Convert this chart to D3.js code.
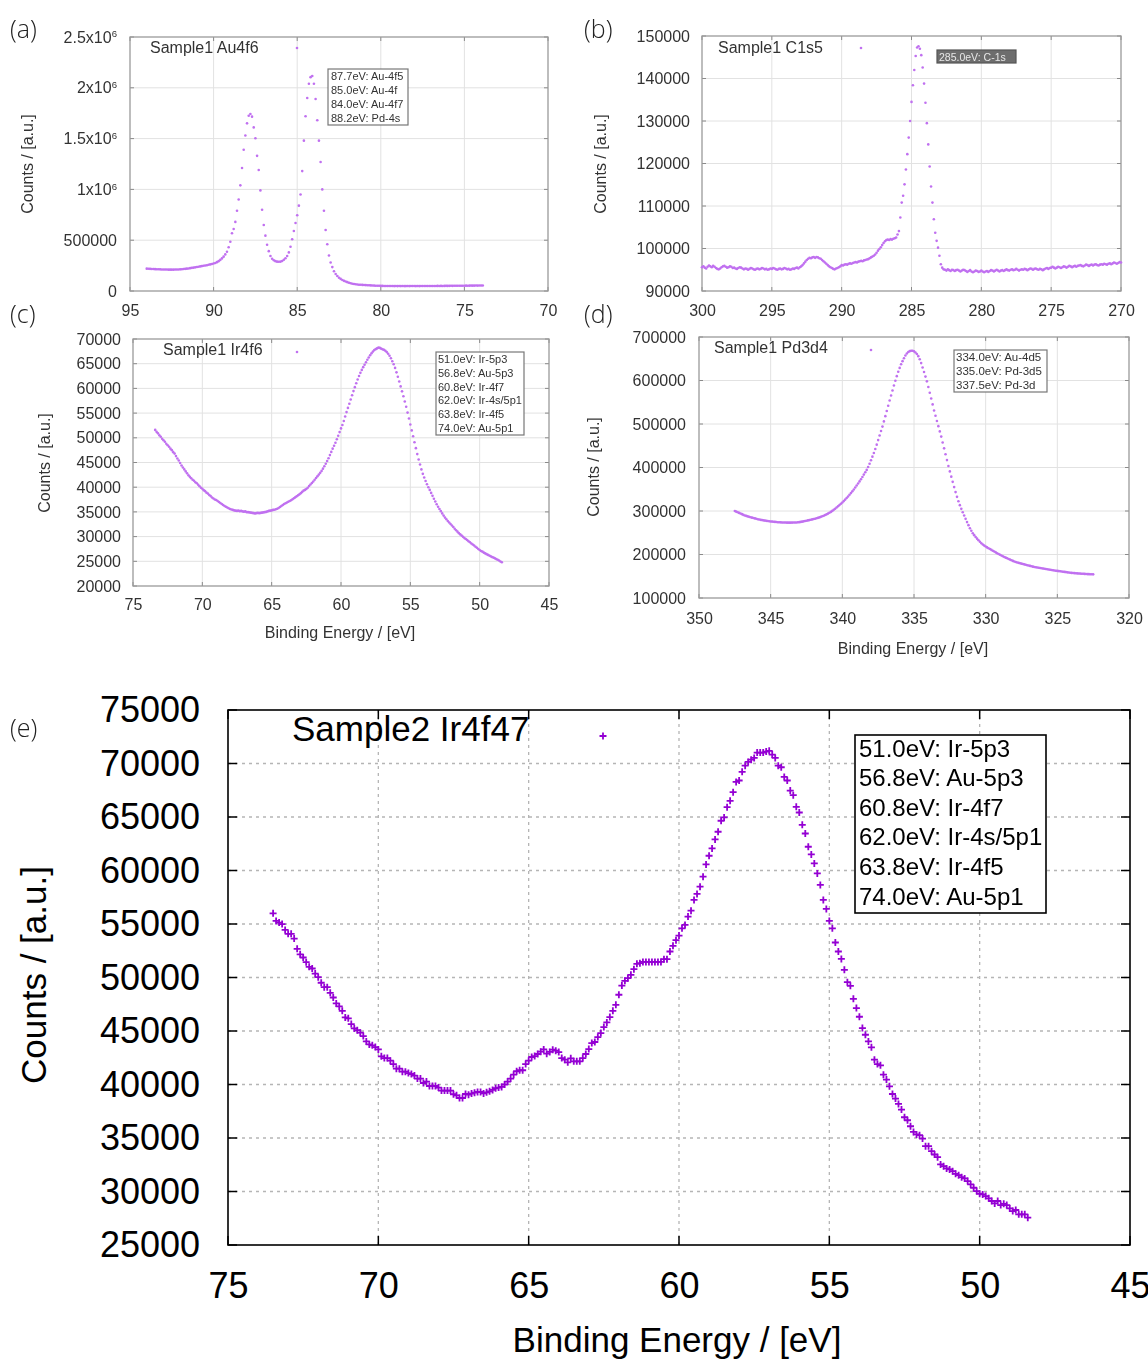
<!DOCTYPE html>
<html>
<head>
<meta charset="utf-8">
<script src="https://cdn.jsdelivr.net/npm/d3@7"></script>
<style>
  body { margin: 0; background: #fff; }
  svg { display: block; }
</style>
</head>
<body>
<svg id="fig" width="1148" height="1360"></svg>
<script>
// ---------- DATA (counts, 0.1 eV steps) ----------
const stepEV = 0.1;

// (a) Sample1 Au4f6, 94.0 -> 73.9 eV
const auStartEV = 94.0;
const auCounts = [
  220000, 219000, 218000, 217000, 216000, 215000, 214000, 214000, 213000, 212000, // 94.0
  212000, 211000, 211000, 210000, 210000, 210000, 210000, 211000, 211000, 212000, // 93.0
  213000, 214000, 216000, 218000, 220000, 222000, 225000, 228000, 230000, 233000, // 92.0
  236000, 239000, 242000, 245000, 248000, 251000, 254000, 258000, 262000, 266000, // 91.0
  270000, 276000, 284000, 294000, 306000, 321000, 338000, 360000, 387000, 430000, // 90.0
  485000, 568000, 610000, 680000, 790000, 900000, 1040000, 1210000, 1390000, 1530000, // 89.0
  1650000, 1725000, 1742000, 1716000, 1610000, 1503000, 1330000, 1191000, 990000, 800000, // 88.0
  650000, 545000, 455000, 392000, 345000, 318000, 303000, 294000, 289000, 288000, // 87.0
  289000, 296000, 308000, 322000, 345000, 380000, 435000, 510000, 590000, 670000, // 86.0
  745000, 840000, 950000, 1180000, 1480000, 1720000, 1900000, 2040000, 2105000, 2116000, // 85.0
  2040000, 1890000, 1680000, 1480000, 1270000, 1000000, 790000, 600000, 460000, 350000, // 84.0
  280000, 235000, 195000, 168000, 147000, 131000, 119000, 109000, 100000, 93000, // 83.0
  87000, 81000, 76000, 72000, 69000, 66000, 64000, 62000, 61000, 60000, // 82.0
  59000, 58000, 57000, 56000, 55000, 54000, 53000, 52000, 51000, 51000, // 81.0
  50000, 50000, 49000, 49500, 49000, 48500, 49000, 48500, 48000, 48500, // 80.0
  48000, 48500, 48000, 48500, 48000, 48000, 48500, 48000, 48500, 49000, // 79.0
  48500, 48000, 48500, 48000, 48500, 49000, 48500, 49000, 48500, 49000, // 78.0
  49500, 49000, 49500, 49000, 50000, 49500, 50000, 49500, 50000, 50500, // 77.0
  50000, 50500, 51000, 50500, 51000, 51500, 51000, 51500, 52000, 51500, // 76.0
  52000, 52500, 52000, 52500, 53000, 52500, 53000, 53500, 53000, 53500, // 75.0
  54000, 53500                                                           // 74.0
];

// (b) Sample1 C1s5, 300.0 -> 270.0 eV
const c1sStartEV = 300.0;
const c1sCounts = [
  95600, 95800, 95500, 95300, 95700, 96000, 95800, 95600, 95900, 95700, // 300.0
  95400, 95200, 95100, 95300, 95600, 95800, 95900, 95700, 95500, 95600, // 299.0
  95800, 95700, 95400, 95500, 95300, 95200, 95400, 95600, 95500, 95300, // 298.0
  95100, 95300, 95200, 95000, 95200, 95400, 95300, 95100, 95000, 95200, // 297.0
  95300, 95100, 95200, 95400, 95300, 95100, 95200, 95000, 95100, 95300, // 296.0
  95200, 95400, 95300, 95100, 95000, 95200, 95300, 95100, 95200, 95400, // 295.0
  95300, 95100, 95200, 95000, 95100, 95300, 95200, 95400, 95500, 95300, // 294.0
  95600, 95800, 96100, 96500, 96900, 97300, 97600, 97800, 97700, 97900, // 293.0
  98000, 97800, 98000, 97900, 97700, 97600, 97300, 97000, 96700, 96400, // 292.0
  96100, 95800, 95600, 95400, 95200, 95100, 95300, 95400, 95600, 95800, // 291.0
  96100, 96000, 96200, 96300, 96200, 96400, 96500, 96400, 96600, 96700, // 290.0
  96800, 96700, 96900, 97000, 97100, 97000, 97200, 97300, 97400, 97500, // 289.0
  97700, 97900, 98100, 98300, 98600, 99000, 99500, 99900, 100300, 100800, // 288.0
  101300, 101700, 102000, 102100, 102000, 102200, 102100, 102300, 102400, 102600, // 287.0
  103300, 104100, 107300, 110800, 112400, 115100, 118600, 122200, 126100, 130000, // 286.0
  134500, 138400, 142000, 145300, 147300, 147600, 147000, 145500, 142600, 138800, // 285.0
  134300, 129500, 124500, 119300, 114600, 110800, 106900, 103700, 101800, 100200, // 284.0
  98300, 96300, 95500, 95100, 95000, 94800, 95100, 94900, 94700, 95000, // 283.0
  94900, 94700, 94900, 95000, 94800, 94600, 94800, 95000, 94900, 94700, // 282.0
  94500, 94700, 94900, 94600, 94400, 94600, 94800, 94700, 94500, 94600, // 281.0
  94800, 94600, 94400, 94600, 94700, 94500, 94700, 94900, 94800, 94600, // 280.0
  94800, 95000, 94800, 94600, 94800, 94900, 94700, 94900, 95100, 94900, // 279.0
  94800, 95000, 95100, 94900, 95000, 95200, 95000, 94800, 95000, 95100, // 278.0
  95000, 95200, 95100, 94900, 95100, 95300, 95200, 95000, 95200, 95300, // 277.0
  95100, 95000, 95200, 95100, 94900, 95100, 95300, 95400, 95200, 95400, // 276.0
  95500, 95700, 95500, 95300, 95500, 95700, 95600, 95400, 95600, 95800, // 275.0
  95700, 95500, 95700, 95900, 95800, 95600, 95800, 95900, 95700, 95900, // 274.0
  96000, 96100, 95900, 95800, 96000, 96200, 96100, 95900, 96100, 96200, // 273.0
  96000, 96200, 96300, 96100, 96000, 96200, 96300, 96200, 96400, 96300, // 272.0
  96200, 96400, 96500, 96300, 96500, 96700, 96600, 96400, 96600, 96800, // 271.0
  96700                                                                  // 270.0
];

// (c) Sample1 Ir4f6, 73.4 -> 48.4 eV
const ir1StartEV = 73.4;
const ir1Counts = [
  51600, 51200, 50900, 50500, 50200, 49800, 49500, 49200, 48800, 48500, // 73.4
  48200, 47800, 47500, 47100, 46800, 46300, 45800, 45400, 44900, 44400, // 72.4
  44000, 43600, 43200, 42800, 42400, 42100, 41800, 41500, 41300, 41000, // 71.4
  40800, 40500, 40200, 39900, 39700, 39400, 39200, 38900, 38700, 38400, // 70.4
  38200, 37900, 37700, 37500, 37400, 37200, 37000, 36800, 36600, 36400, // 69.4
  36200, 36050, 35900, 35750, 35600, 35500, 35400, 35300, 35250, 35200, // 68.4
  35250, 35150, 35200, 35100, 35050, 35100, 34950, 34950, 34900, 34850, // 67.4
  34800, 34750, 34700, 34750, 34800, 34750, 34800, 34850, 34900, 34950, // 66.4
  35000, 35100, 35200, 35250, 35300, 35400, 35450, 35550, 35650, 35800, // 65.4
  36000, 36200, 36400, 36600, 36750, 36900, 37050, 37200, 37350, 37550, // 64.4
  37750, 37950, 38150, 38350, 38550, 38800, 39050, 39300, 39450, 39650, // 63.4
  39900, 40250, 40550, 40850, 41150, 41500, 41850, 42200, 42550, 42900, // 62.4
  43300, 43750, 44250, 44750, 45300, 45850, 46500, 47150, 47800, 48400, // 61.4
  49000, 49700, 50400, 51150, 51900, 52600, 53400, 54300, 55200, 56050, // 60.4
  56900, 57750, 58600, 59450, 60250, 61050, 61800, 62500, 63150, 63750, // 59.4
  64300, 64800, 65300, 65800, 66250, 66700, 67100, 67450, 67750, 67950, // 58.4
  68100, 68250, 68200, 68050, 67900, 67800, 67600, 67350, 67000, 66600, // 57.4
  66100, 65500, 64900, 64150, 63250, 62350, 61400, 60400, 59400, 58400, // 56.4
  57350, 56300, 55100, 53900, 52700, 51500, 50300, 49100, 47900, 46700, // 55.4
  45600, 44600, 43600, 42700, 41950, 41250, 40600, 40000, 39450, 38850, // 54.4
  38250, 37650, 37100, 36550, 36050, 35600, 35150, 34700, 34250, 33850, // 53.4
  33500, 33150, 32850, 32550, 32250, 31950, 31600, 31300, 31000, 30700, // 52.4
  30450, 30200, 29950, 29700, 29500, 29300, 29050, 28850, 28600, 28400, // 51.4
  28200, 27950, 27750, 27500, 27300, 27100, 26950, 26750, 26600, 26450, // 50.4
  26300, 26150, 26000, 25850, 25750, 25600, 25450, 25300, 25150, 24950, // 49.4
  24800                                                                  // 48.4
];

// (d) Sample1 Pd3d4, 347.5 -> 322.5 eV
const pdStartEV = 347.5;
const pdCounts = [
  300000, 298500, 297000, 295600, 294200, 292800, 291000, 289800, 288700, 287600, // 347.5
  286600, 285600, 284700, 283800, 283000, 282200, 281100, 280400, 279700, 279100, // 346.5
  278500, 277900, 277400, 276900, 276400, 276000, 275600, 275200, 274900, 274600, // 345.5
  274300, 274100, 273900, 273700, 273500, 273400, 273300, 273200, 273200, 273200, // 344.5
  273300, 273400, 273500, 273700, 274000, 274400, 274900, 275500, 276200, 276900, // 343.5
  277600, 278400, 279100, 279900, 280700, 281500, 282300, 283200, 284200, 285300, // 342.5
  286500, 287800, 289200, 290700, 292300, 294000, 295900, 297900, 300200, 302700, // 341.5
  305300, 308000, 310800, 313700, 316600, 319600, 322800, 326200, 329800, 333500, // 340.5
  337300, 341200, 345200, 349500, 354000, 358600, 363300, 368100, 373000, 378200, // 339.5
  383700, 389000, 394500, 401000, 408500, 416500, 425000, 433500, 442500, 452500, // 338.5
  463000, 473500, 484000, 494000, 506000, 518000, 530000, 542000, 554000, 565500, // 337.5
  577000, 588500, 599500, 610000, 620000, 629000, 637500, 644500, 651000, 657500, // 336.5
  662000, 665500, 667500, 668500, 668500, 667000, 664500, 661000, 656000, 649000, // 335.5
  640000, 630000, 619500, 609000, 598000, 585000, 572000, 558500, 545000, 531000, // 334.5
  519000, 507000, 495000, 483000, 471000, 457500, 444000, 430500, 417000, 403500, // 333.5
  391000, 379000, 367000, 355000, 343500, 332500, 322500, 313500, 305000, 297000, // 332.5
  289500, 282000, 274500, 267500, 260500, 254500, 249000, 244500, 240300, 236400, // 331.5
  232600, 229200, 226000, 223000, 220500, 218300, 216300, 214400, 212500, 210600, // 330.5
  208700, 206800, 204900, 203000, 201200, 199400, 197700, 196000, 194400, 192800, // 329.5
  191300, 189800, 188300, 186800, 185300, 183900, 182700, 181700, 180800, 179900, // 328.5
  179000, 178100, 177200, 176300, 175400, 174600, 173800, 173000, 172100, 171400, // 327.5
  170800, 170200, 169600, 169000, 168400, 167800, 167200, 166600, 166000, 165400, // 326.5
  164800, 164200, 163700, 163300, 162800, 162300, 161800, 161400, 160900, 160400, // 325.5
  160000, 159500, 159000, 158500, 158100, 157700, 157400, 157100, 156800, 156500, // 324.5
  156300, 156100, 155800, 155600, 155400, 155200, 155000, 154800, 154700, 154500, // 323.5
  154400                                                                          // 322.5
];

// (e) Sample2 Ir4f47, 73.5 -> 48.4 eV
const ir2StartEV = 73.5;
const ir2Counts = [
  56000, 55290, 55130, 54990, 54450, 54080, 54080, 53640, 52680, 52170, // 73.5
  51870, 51430, 51000, 50840, 50370, 50030, 49510, 49100, 49100, 48570, // 72.5
  48130, 47580, 47300, 46890, 46270, 46180, 45650, 45240, 45080, 44840, // 71.5
  44530, 44030, 43750, 43660, 43500, 43280, 42630, 42470, 42470, 42230, // 70.5
  41910, 41480, 41480, 41200, 41200, 41070, 40980, 40830, 40550, 40550, // 69.5
  40140, 40270, 39860, 39860, 39860, 39710, 39430, 39430, 39430, 39430, // 68.5
  39090, 38990, 38740, 38740, 39110, 39050, 39150, 39240, 39300, 39300, // 67.5
  39170, 39270, 39360, 39490, 39650, 39710, 39770, 40000, 40270, 40550, // 66.5
  40920, 41240, 41330, 41330, 41910, 42230, 42570, 42660, 42850, 43070, // 65.5
  43280, 42880, 43040, 43250, 43160, 43030, 42470, 42320, 42070, 42450, // 64.5
  42170, 42170, 42170, 42470, 42850, 43310, 43870, 43970, 44430, 44810, // 63.5
  45370, 45800, 46300, 46890, 47450, 48390, 49250, 49690, 49940, 50250, // 62.5
  50780, 51280, 51340, 51460, 51460, 51460, 51460, 51460, 51460, 51460, // 61.5
  51710, 51710, 52430, 52960, 53490, 53920, 54600, 54910, 55690, 56250, // 60.5
  57250, 57810, 58490, 59420, 60570, 61380, 62060, 62900, 63620, 64650, // 59.5
  64960, 65920, 66510, 67320, 68280, 68410, 69220, 69800, 70150, 70360, // 58.5
  70520, 71020, 71020, 71020, 71110, 71180, 70830, 70520, 69800, 69650, // 57.5
  68750, 68410, 67470, 67040, 65950, 65420, 64270, 63460, 62220, 61500, // 56.5
  60660, 59730, 58650, 57250, 56410, 55290, 54600, 53270, 52430, 51740, // 55.5
  50720, 49560, 49220, 48010, 47140, 46330, 45270, 44650, 44030, 43470, // 54.5
  42320, 41910, 41790, 40920, 40460, 39830, 39110, 38680, 38180, 37660, // 53.5
  36940, 36660, 36100, 35570, 35330, 35260, 34950, 34240, 34240, 33770, // 52.5
  33460, 33210, 32530, 32370, 32160, 32060, 31900, 31650, 31530, 31340, // 51.5
  31220, 30970, 30660, 30350, 30040, 29790, 29730, 29570, 29360, 29110, // 50.5
  28890, 29110, 28730, 28850, 28730, 28420, 28170, 28270, 27870, 27870, // 49.5
  27870, 27550                                                           // 48.5
];

// ticks and labels
const auXTicks = [95, 90, 85, 80, 75, 70];
const auYTicks = [0, 500000, 1000000, 1500000, 2000000, 2500000];
const c1sXTicks = [300, 295, 290, 285, 280, 275, 270];
const c1sYTicks = [90000, 100000, 110000, 120000, 130000, 140000, 150000];
const irXTicks = [75, 70, 65, 60, 55, 50, 45];
const ir1YTicks = [20000, 25000, 30000, 35000, 40000, 45000, 50000, 55000, 60000, 65000, 70000];
const pdXTicks = [350, 345, 340, 335, 330, 325, 320];
const pdYTicks = [100000, 200000, 300000, 400000, 500000, 600000, 700000];
const ir2YTicks = [25000, 30000, 35000, 40000, 45000, 50000, 55000, 60000, 65000, 70000, 75000];

const auKey = ["87.7eV: Au-4f5", "85.0eV: Au-4f", "84.0eV: Au-4f7", "88.2eV: Pd-4s"];
const c1sKey = ["285.0eV: C-1s"];
const irKey = ["51.0eV: Ir-5p3", "56.8eV: Au-5p3", "60.8eV: Ir-4f7", "62.0eV: Ir-4s/5p1", "63.8eV: Ir-4f5", "74.0eV: Au-5p1"];
const pdKey = ["334.0eV: Au-4d5", "335.0eV: Pd-3d5", "337.5eV: Pd-3d"];

const xTitle = "Binding Energy / [eV]";
const yTitle = "Counts / [a.u.]";

// ---------- DRAWING ----------
const FONT = "'Liberation Sans', Arial, Helvetica, sans-serif";
const svg = d3.select("#fig");
svg.append("rect").attr("width", 1148).attr("height", 1360).attr("fill", "#fff");
svg.append("defs").append("filter").attr("id", "soft")
  .append("feGaussianBlur").attr("stdDeviation", 0.45);

const toPoints = (start, counts) =>
  counts.map((c, i) => ({ ev: +(start - i * stepEV).toFixed(2), c }));

function sciLabel(sel) {
  // "1.5x10^6" style labels for the Au panel
  sel.each(function (d) {
    if (d < 1e6) return;
    const t = d3.select(this).text("");
    t.append("tspan").text(d3.format("~g")(d / 1e6) + "x10");
    t.append("tspan").attr("dy", "-0.55em").attr("font-size", "0.6em").text("6");
  });
}

function drawPanel(p) {
  const g = svg.append("g");
  if (p.soft) g.attr("filter", "url(#soft)");

  const x = d3.scaleLinear().domain(p.xDomain).range([p.x0, p.x1]);
  const y = d3.scaleLinear().domain(p.yDomain).range([p.y1, p.y0]);

  // grid
  const grid = g.append("g")
    .attr("stroke", p.gridColor).attr("stroke-width", p.gridWidth)
    .attr("stroke-dasharray", p.gridDash);
  grid.selectAll(".gx").data(p.xTicks.slice(1, -1)).join("line")
    .attr("x1", d => x(d)).attr("x2", d => x(d)).attr("y1", p.y0).attr("y2", p.y1);
  grid.selectAll(".gy").data(p.yTicks.slice(1, -1)).join("line")
    .attr("y1", d => y(d)).attr("y2", d => y(d)).attr("x1", p.x0).attr("x2", p.x1);

  // inner ticks on all four sides
  const tk = g.append("g").attr("stroke", p.tickColor).attr("stroke-width", p.tickWidth);
  p.xTicks.forEach(d => {
    tk.append("line").attr("x1", x(d)).attr("x2", x(d)).attr("y1", p.y1).attr("y2", p.y1 - p.tickLen);
    tk.append("line").attr("x1", x(d)).attr("x2", x(d)).attr("y1", p.y0).attr("y2", p.y0 + p.tickLen);
  });
  p.yTicks.forEach(d => {
    tk.append("line").attr("y1", y(d)).attr("y2", y(d)).attr("x1", p.x0).attr("x2", p.x0 + p.tickLen);
    tk.append("line").attr("y1", y(d)).attr("y2", y(d)).attr("x1", p.x1).attr("x2", p.x1 - p.tickLen);
  });

  g.append("rect")
    .attr("x", p.x0).attr("y", p.y0).attr("width", p.x1 - p.x0).attr("height", p.y1 - p.y0)
    .attr("fill", "none").attr("stroke", p.borderColor).attr("stroke-width", p.borderWidth);

  // axes (labels only)
  const ax = g.append("g").attr("transform", `translate(0,${p.y1})`)
    .call(d3.axisBottom(x).tickValues(p.xTicks).tickFormat(d3.format("d"))
      .tickSize(0).tickPadding(p.xLabelBase - p.y1 - 0.71 * p.labelSize));
  const ay = g.append("g").attr("transform", `translate(${p.x0},0)`)
    .call(d3.axisLeft(y).tickValues(p.yTicks).tickFormat(d3.format("d"))
      .tickSize(0).tickPadding(p.x0 - p.yLabelRight));
  [ax, ay].forEach(a => {
    a.select(".domain").remove();
    a.selectAll("text").attr("font-family", FONT).attr("font-size", p.labelSize).attr("fill", p.textColor);
  });
  if (p.sci) ay.selectAll(".tick text").call(sciLabel);

  // axis titles
  if (p.xTitlePos) {
    g.append("text").attr("x", p.xTitlePos[0]).attr("y", p.xTitlePos[1])
      .attr("text-anchor", "middle").attr("font-family", FONT).attr("font-size", p.titleSize)
      .attr("fill", p.textColor).text(xTitle);
  }
  g.append("text")
    .attr("transform", `translate(${p.yTitlePos[0]},${p.yTitlePos[1]}) rotate(-90)`)
    .attr("text-anchor", "middle").attr("font-family", FONT).attr("font-size", p.titleSize)
    .attr("fill", p.textColor).text(yTitle);

  // series title + key sample
  g.append("text").attr("x", p.name[0]).attr("y", p.name[1])
    .attr("font-family", FONT).attr("font-size", p.nameSize).attr("fill", p.textColor).text(p.label);

  // data points
  const pts = g.append("g");
  const drawMark = (sel) => {
    if (p.cross) {
      sel.append("path").attr("d", "M-3.5,0H3.5M0,-3.5V3.5")
        .attr("stroke", p.dotColor).attr("stroke-width", 1.8).attr("fill", "none");
    } else {
      sel.append("circle").attr("r", p.dotR).attr("fill", p.dotColor);
    }
  };
  pts.selectAll("g").data(p.data).join("g")
    .attr("transform", d => `translate(${x(d.ev)},${y(d.c)})`)
    .call(drawMark);
  g.append("g").attr("transform", `translate(${p.sample[0]},${p.sample[1]})`).call(drawMark);

  // key box
  const k = p.key;
  g.append("rect").attr("x", k.x).attr("y", k.y).attr("width", k.w).attr("height", k.h)
    .attr("fill", k.fill || "#fff").attr("stroke", k.stroke).attr("stroke-width", k.sw);
  g.append("g").selectAll("text").data(k.lines).join("text")
    .attr("x", k.x + k.pad).attr("y", (d, i) => k.y + k.first + i * k.lh)
    .attr("font-family", FONT).attr("font-size", k.size).attr("fill", k.color || p.textColor)
    .text(d => d);
}

const small = {
  soft: true, gridColor: "#e2e2e2", gridWidth: 1, gridDash: null,
  tickColor: "#8a8a8a", tickWidth: 1, tickLen: 4,
  borderColor: "#9a9a9a", borderWidth: 1.3,
  labelSize: 16, titleSize: 16, nameSize: 16, textColor: "#333",
  dotColor: "#c070f0", dotR: 1.3
};

drawPanel({
  ...small, label: "Sample1 Au4f6", sci: true,
  x0: 130, x1: 548, y0: 37, y1: 291, xDomain: [95, 70], yDomain: [0, 2500000],
  xTicks: auXTicks, yTicks: auYTicks, xLabelBase: 316, yLabelRight: 117,
  yTitlePos: [33, 164], name: [150, 53], sample: [297, 48],
  data: toPoints(auStartEV, auCounts),
  key: { x: 328, y: 69, w: 80, h: 56, lines: auKey, pad: 3, first: 11, lh: 14, size: 11, stroke: "#777", sw: 1.2 }
});

drawPanel({
  ...small, label: "Sample1 C1s5",
  x0: 702, x1: 1121, y0: 36, y1: 291, xDomain: [300, 270], yDomain: [90000, 150000],
  xTicks: c1sXTicks, yTicks: c1sYTicks, xLabelBase: 316, yLabelRight: 690,
  yTitlePos: [606, 164], name: [718, 53], sample: [861, 48],
  data: toPoints(c1sStartEV, c1sCounts),
  key: { x: 937, y: 50, w: 79, h: 13, lines: c1sKey, pad: 2, first: 10.5, lh: 13, size: 10.5, stroke: "#555", sw: 1.2, fill: "#6d6d6d", color: "#e8e8e8" }
});

drawPanel({
  ...small, label: "Sample1 Ir4f6",
  x0: 133, x1: 549, y0: 339, y1: 586, xDomain: [75, 45], yDomain: [20000, 70000],
  xTicks: irXTicks, yTicks: ir1YTicks, xLabelBase: 610, yLabelRight: 121,
  xTitlePos: [340, 638], yTitlePos: [50, 463], name: [163, 355], sample: [297, 352],
  data: toPoints(ir1StartEV, ir1Counts),
  key: { x: 436, y: 352, w: 88, h: 83, lines: irKey, pad: 2, first: 11, lh: 13.8, size: 11, stroke: "#777", sw: 1.2 }
});

drawPanel({
  ...small, label: "Sample1 Pd3d4",
  x0: 699, x1: 1129, y0: 337, y1: 598, xDomain: [350, 320], yDomain: [100000, 700000],
  xTicks: pdXTicks, yTicks: pdYTicks, xLabelBase: 624, yLabelRight: 686,
  xTitlePos: [913, 654], yTitlePos: [599, 467], name: [714, 353], sample: [871, 350],
  data: toPoints(pdStartEV, pdCounts),
  key: { x: 954, y: 350, w: 93, h: 42, lines: pdKey, pad: 2, first: 11, lh: 14, size: 11.5, stroke: "#777", sw: 1.2 }
});

drawPanel({
  soft: false, gridColor: "#b5b5b5", gridWidth: 1.3, gridDash: "3,4",
  tickColor: "#000", tickWidth: 1.5, tickLen: 9,
  borderColor: "#000", borderWidth: 1.6,
  labelSize: 36, titleSize: 35, nameSize: 35, textColor: "#000",
  dotColor: "#9400d3", cross: true, label: "Sample2 Ir4f47",
  x0: 228, x1: 1130, y0: 710, y1: 1245, xDomain: [75, 45], yDomain: [25000, 75000],
  xTicks: irXTicks, yTicks: ir2YTicks, xLabelBase: 1298, yLabelRight: 200,
  xTitlePos: [677, 1352], yTitlePos: [46, 975], name: [292, 741], sample: [603, 736],
  data: toPoints(ir2StartEV, ir2Counts),
  key: { x: 855, y: 735, w: 191, h: 178, lines: irKey, pad: 4, first: 21.5, lh: 29.6, size: 24, stroke: "#000", sw: 1.6 }
});

// panel letters
const letters = [["(a)", 10, 38], ["(b)", 584, 38], ["(c)", 10, 323], ["(d)", 584, 323], ["(e)", 10, 737]];
svg.append("g").selectAll("text").data(letters).join("text")
  .attr("x", d => d[1]).attr("y", d => d[2])
  .attr("font-family", "'Open Sans', 'Noto Sans', sans-serif").attr("font-weight", 300)
  .attr("font-size", 25).attr("fill", "#222").text(d => d[0]);
</script>
</body>
</html>
